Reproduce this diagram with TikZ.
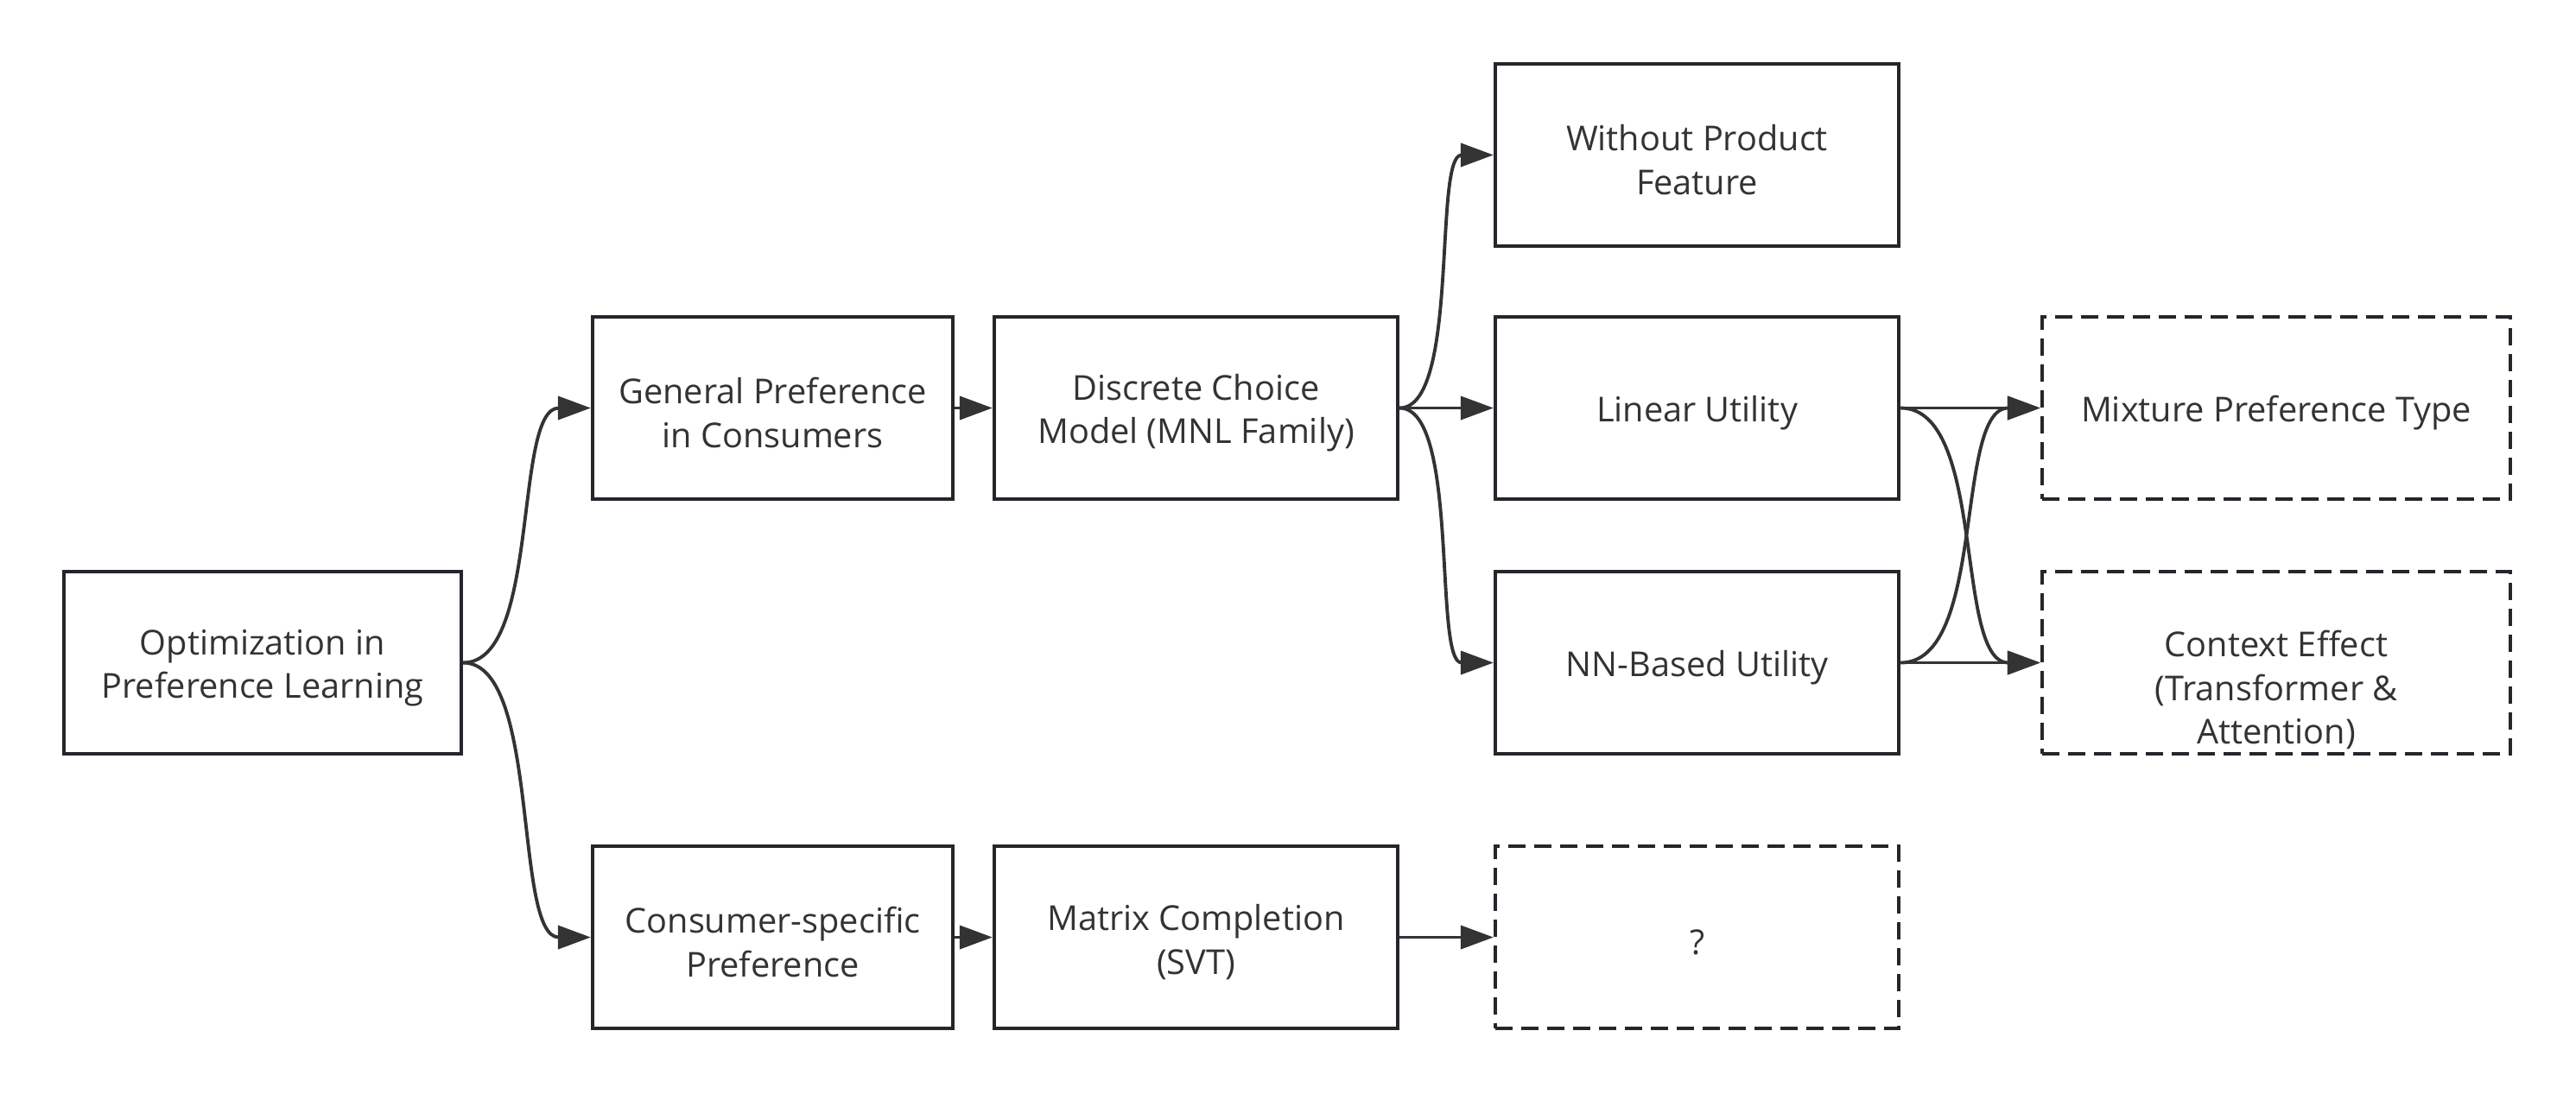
\documentclass[tikz,border=0pt]{standalone}
\usepackage{fontspec}
\setmainfont{Open Sans}
\usetikzlibrary{arrows.meta}
\definecolor{ink}{HTML}{333333}
\definecolor{frame}{HTML}{23272B}
\newcommand\capstrut{\rule{0pt}{11.8pt}}

\begin{document}
\begin{tikzpicture}[
  every node/.style={font=\fontsize{11.3}{14.3}\selectfont, text=ink},
  box/.style={draw=frame, line width=1.2pt, minimum height=2.11cm, align=center, inner sep=0pt},
  tentative/.style={box, dash pattern=on 0.2cm off 0.1cm},
  link/.style={draw=ink, line width=1.1pt, -{Triangle[length=0.38cm,width=0.27cm]}},
  fork/.style={out=0, in=180, distance=#1}
]
  \useasboundingbox (0,0) rectangle (29.82,-12.66);
  % root
  \node[box, minimum width=4.60cm] (opt) at (3.04,-7.675) {\capstrut Optimization in\\Preference Learning};
  % second column
  \node[box, minimum width=4.17cm] (gen)  at (8.945,-4.725)  {\capstrut General Preference\\in Consumers};
  \node[box, minimum width=4.17cm] (cons) at (8.945,-10.855) {\capstrut Consumer-specific\\Preference};
  % third column
  \node[box, minimum width=4.67cm] (dcm) at (13.845,-4.725)  {\capstrut Discrete Choice\\Model (MNL Family)};
  \node[box, minimum width=4.67cm] (mc)  at (13.845,-10.855) {\capstrut Matrix Completion\\(SVT)};
  % fourth column
  \node[box, minimum width=4.67cm] (wpf) at (19.645,-1.795) {\capstrut Without Product\\Feature};
  \node[box, minimum width=4.67cm] (lin) at (19.645,-4.725) {\capstrut Linear Utility};
  \node[box, minimum width=4.67cm] (nn)  at (19.645,-7.675) {\capstrut NN-Based Utility};
  \node[tentative, minimum width=4.67cm] (unk) at (19.645,-10.855) {\capstrut ?};
  % open directions
  \node[tentative, minimum width=5.42cm] (mix) at (26.35,-4.725) {\capstrut Mixture Preference Type};
  \node[tentative, minimum width=5.42cm] (ctx) at (26.35,-7.675) {\rule{0pt}{26.6pt}Context Effect\\(Transformer \&\\Attention)};

  \draw[link] (opt.east) to[fork=0.9cm] (gen.west);
  \draw[link] (opt.east) to[fork=0.9cm] (cons.west);
  \draw[link] (gen.east) -- (dcm.west);
  \draw[link] (cons.east) -- (mc.west);
  \draw[link] (dcm.east) to[fork=0.7cm] (wpf.west);
  \draw[link] (dcm.east) -- (lin.west);
  \draw[link] (dcm.east) to[fork=0.7cm] (nn.west);
  \draw[link] (mc.east) -- (unk.west);
  \draw[link] (lin.east) -- (mix.west);
  \draw[link] (lin.east) to[fork=1cm] (ctx.west);
  \draw[link] (nn.east) to[fork=1cm] (mix.west);
  \draw[link] (nn.east) -- (ctx.west);
\end{tikzpicture}
\end{document}
